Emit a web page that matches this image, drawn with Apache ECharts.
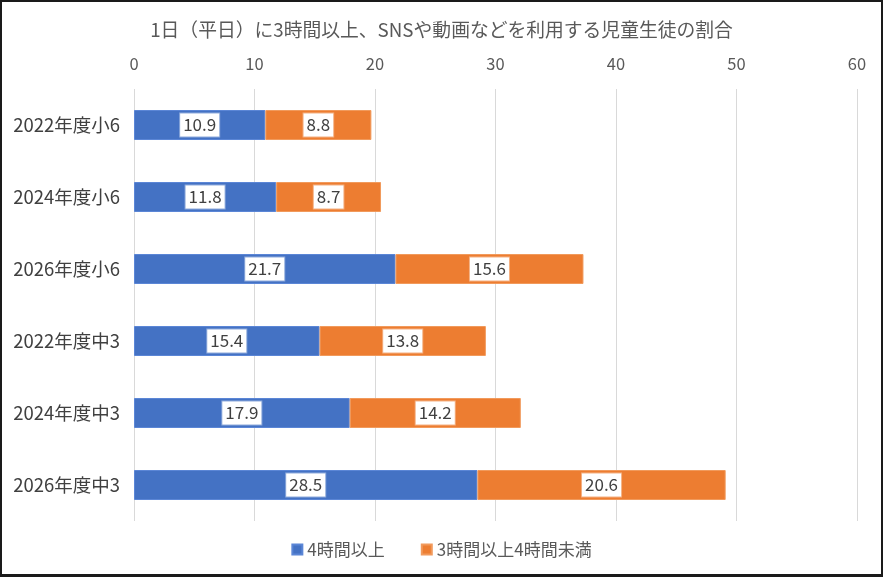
<!DOCTYPE html>
<html>
<head>
<meta charset="utf-8">
<script src="https://cdn.jsdelivr.net/npm/echarts@6/dist/echarts.min.js"></script>
<style>
html, body { margin: 0; padding: 0; background: #fff; }
#chart { width: 883px; height: 577px; box-sizing: border-box; border: 2px solid #1a1a1a; border-bottom-width: 3px; }
</style>
</head>
<body>
<div id="chart"></div>
<script>
var categories = ['2022年度小6', '2024年度小6', '2026年度小6', '2022年度中3', '2024年度中3', '2026年度中3'];
var over4 = [10.9, 11.8, 21.7, 15.4, 17.9, 28.5];
var from3to4 = [8.8, 8.7, 15.6, 13.8, 14.2, 20.6];
var seriesNames = ['4時間以上', '3時間以上4時間未満'];
var xTicks = [0, 60, 10]; // min, max, interval

var font = '"Noto Sans CJK JP", "Noto Sans", sans-serif';

function labelStyle(edge) {
	return {
		show: true,
		position: 'inside',
		color: '#404040',
		fontSize: 17,
		fontFamily: font,
		backgroundColor: '#fff',
		borderColor: edge,
		borderWidth: 1,
		padding: [4, 3, 2, 3]
	};
}

var myChart = echarts.init(document.getElementById('chart'));
var option = {
	animation: false,
	title: {
		text: '1日（平日）に3時間以上、SNSや動画などを利用する児童生徒の割合',
		left: 'center',
		top: 13,
		textStyle: {
			color: '#595959',
			fontSize: 18.8,
			fontWeight: 'normal',
			fontFamily: font
		}
	},
	legend: {
		bottom: 11,
		left: 'center',
		itemWidth: 10,
		itemHeight: 10,
		itemGap: 36,
		icon: 'rect',
		textStyle: { color: '#595959', fontSize: 17, fontFamily: font },
		data: seriesNames
	},
	grid: {
		left: 132,
		right: 24,
		top: 87,
		bottom: 53
	},
	xAxis: {
		type: 'value',
		position: 'top',
		min: xTicks[0],
		max: xTicks[1],
		interval: xTicks[2],
		axisLine: { show: false },
		axisTick: { show: false },
		axisLabel: { color: '#595959', fontSize: 16.5, fontFamily: font, margin: 17 },
		splitLine: { lineStyle: { color: '#d9d9d9', width: 1 } }
	},
	yAxis: {
		type: 'category',
		inverse: true,
		data: categories,
		axisLine: { show: false },
		axisTick: { show: false },
		axisLabel: { color: '#404040', fontSize: 18.5, fontFamily: font, margin: 14 }
	},
	series: [{
		name: seriesNames[0],
		type: 'bar',
		stack: 'total',
		barWidth: 30,
		itemStyle: { color: '#4472c4', borderColor: '#5b86d6', borderWidth: 1 },
		label: labelStyle('#8eaadb'),
		data: over4
	}, {
		name: seriesNames[1],
		type: 'bar',
		stack: 'total',
		barWidth: 30,
		itemStyle: { color: '#ed7d31', borderColor: '#f19a5c', borderWidth: 1 },
		label: labelStyle('#f4b183'),
		data: from3to4
	}]
};
myChart.setOption(option);
</script>
</body>
</html>
